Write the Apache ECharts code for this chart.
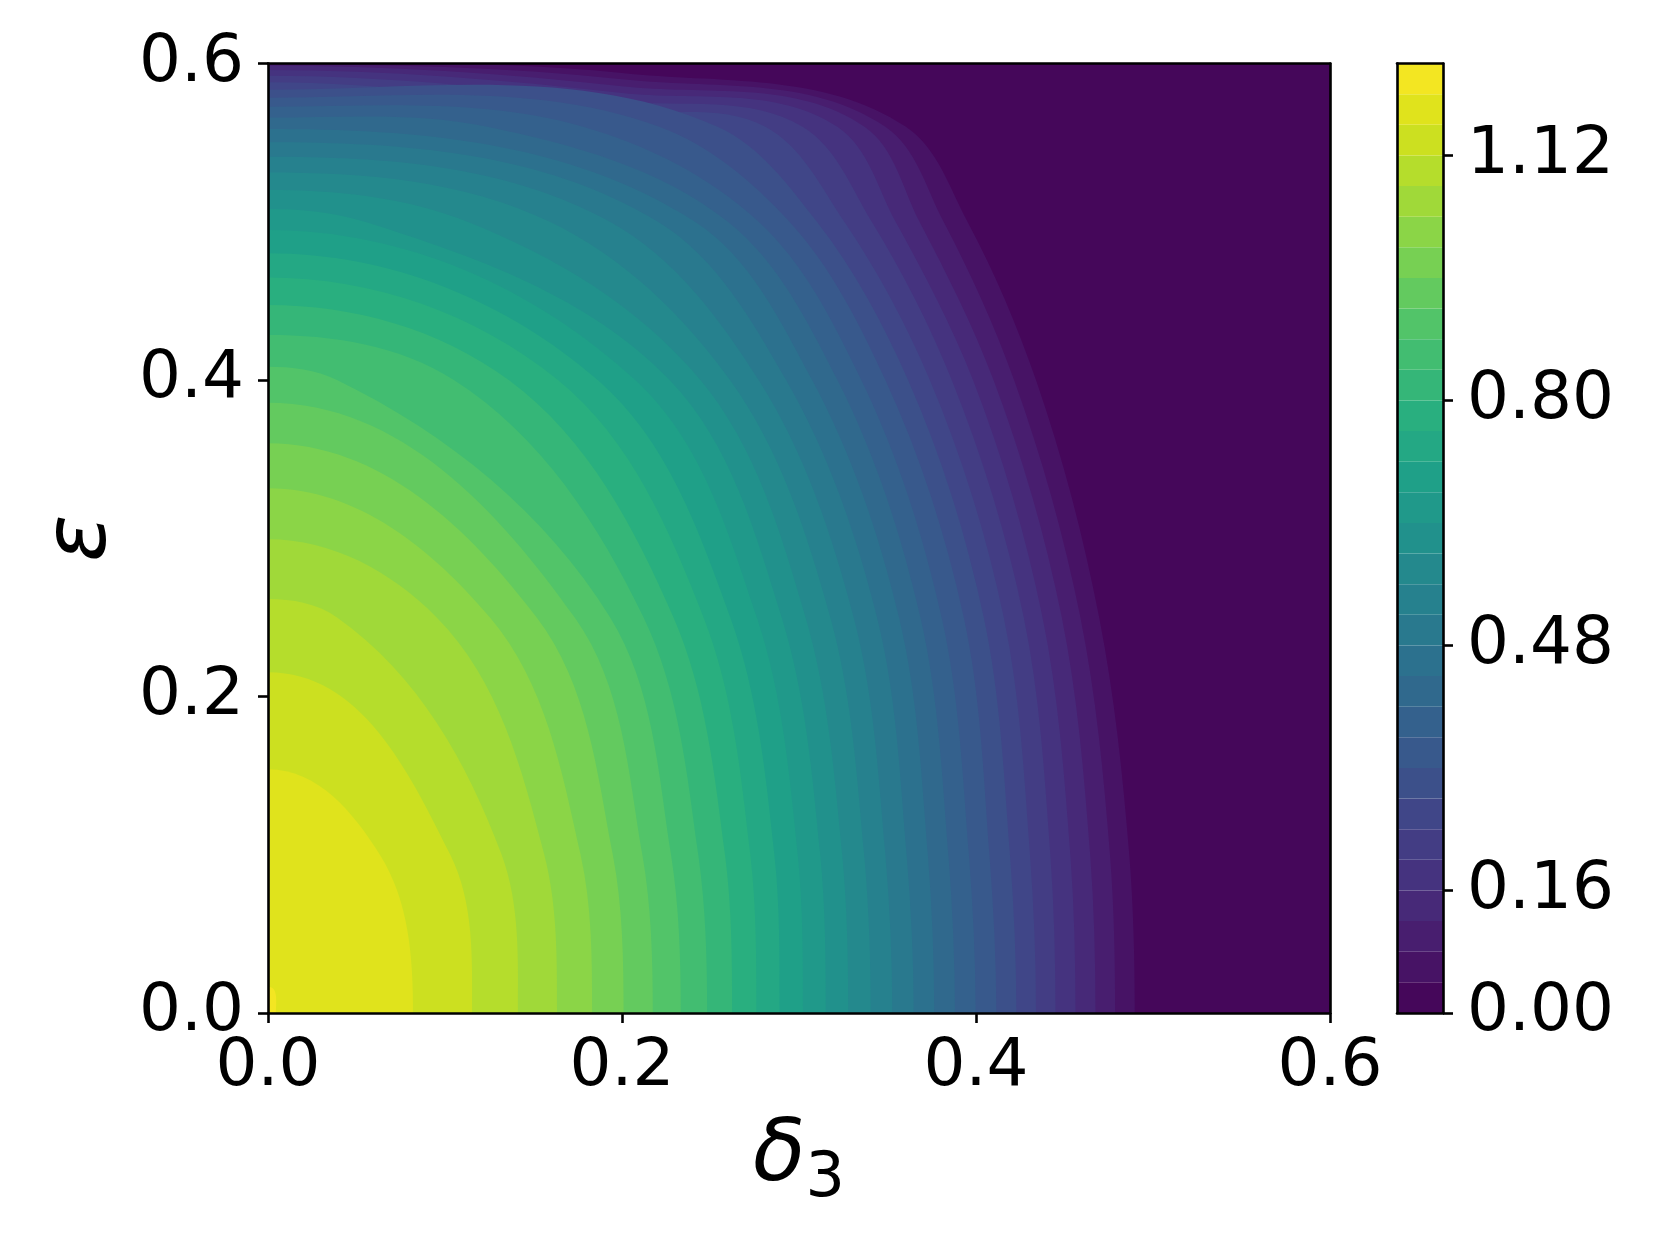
<!DOCTYPE html>
<html>
<head>
<meta charset="utf-8">
<script src="https://cdn.jsdelivr.net/npm/echarts@6/dist/echarts.min.js"></script>
<style>
  html, body { margin: 0; background: #fff; }
  #chart { width: 1660px; height: 1245px; }
</style>
</head>
<body>
<div id="chart"></div>
<script>
// contour levels (lower edge of each filled band above the first one)
const levelValues = [0.04, 0.08, 0.12, 0.16, 0.20, 0.24, 0.28, 0.32, 0.36, 0.40,
  0.44, 0.48, 0.52, 0.56, 0.60, 0.64, 0.68, 0.72, 0.76, 0.80,
  0.84, 0.88, 0.92, 0.96, 1.00, 1.04, 1.08, 1.12, 1.16, 1.20];
const colorbarMax = 1.24;
const colorbarTicks = [0, 0.16, 0.48, 0.80, 1.12];
const axisTicks = [0, 0.2, 0.4, 0.6];
const deltaRange = [0, 0.6];
const epsRange = [0, 0.6];

// where each level line crosses a given eps row (delta value)
const deltaAtEps000 = [0.4897, 0.4786, 0.4675, 0.4562, 0.4449, 0.4339, 0.4228, 0.4115, 0.3998, 0.3881,
  0.3764, 0.3648, 0.3527, 0.3405, 0.3278, 0.3151, 0.3022, 0.2890, 0.2759, 0.2622,
  0.2481, 0.2332, 0.2174, 0.2009, 0.1831, 0.1633, 0.1412, 0.1153, 0.0819, 0.0045];
const deltaAtEps010 = [0.4866, 0.4757, 0.4645, 0.4533, 0.4420, 0.4305, 0.4192, 0.4076, 0.3960, 0.3844,
  0.3728, 0.3608, 0.3488, 0.3368, 0.3244, 0.3120, 0.2993, 0.2861, 0.2725, 0.2582,
  0.2431, 0.2277, 0.2115, 0.1948, 0.1766, 0.1561, 0.1320, 0.1030, 0.0632, null];
const deltaAtEps025 = [0.4696, 0.4590, 0.4485, 0.4376, 0.4270, 0.4157, 0.4044, 0.3931, 0.3806, 0.3686,
  0.3565, 0.3441, 0.3309, 0.3177, 0.3037, 0.2902, 0.2762, 0.2612, 0.2461, 0.2291,
  0.2122, 0.1933, 0.1733, 0.1518, 0.1254, 0.0953, 0.0390, null, null, null];
const deltaAtEps040 = [0.4339, 0.4215, 0.4099, 0.3983, 0.3863, 0.3739, 0.3616, 0.3488, 0.3352, 0.3217,
  0.3074, 0.2927, 0.2772, 0.2610, 0.2443, 0.2269, 0.2075, 0.1863, 0.1638, 0.1360,
  0.1050, 0.0390, null, null, null, null, null, null, null, null];
const deltaAtEps050 = [0.3952, 0.3817, 0.3681, 0.3546, 0.3411, 0.3256, 0.3101, 0.2946, 0.2772, 0.2598,
  0.2412, 0.2203, 0.1932, 0.1592, 0.1127, 0.0547, null, null, null, null,
  null, null, null, null, null, null, null, null, null, null];
const deltaAtEps056 = [0.3604, 0.3488, 0.3370, 0.3217, 0.3020, 0.2810, 0.2540, 0.2210, 0.1780, 0.1240,
  null, null, null, null, null, null, null, null, null, null,
  null, null, null, null, null, null, null, null, null, null];

// where each level line crosses a given delta column (eps value)
const epsAtDelta020 = [0.5940, 0.5900, 0.5856, 0.5814, 0.5761, 0.5698, null, null, null, null,
  null, null, null, null, null, null, null, null, null, null,
  null, null, null, null, null, null, null, null, null, null];
const epsAtDelta000 = [0.5998, 0.5994, 0.5986, 0.5959, 0.5923, 0.5881, 0.5834, 0.5784, 0.5727, 0.5658,
  0.5586, 0.5502, 0.5411, 0.5312, 0.5201, 0.5081, 0.4948, 0.4801, 0.4647, 0.4474,
  0.4284, 0.4084, 0.3857, 0.3600, 0.3316, 0.2993, 0.2616, 0.2153, 0.1540, 0.0166];

const viridisStops = ['#440154', '#48186a', '#472d7b', '#424086', '#3b528b', '#33638d', '#2c728e',
  '#26828e', '#21918c', '#1fa088', '#28ae80', '#3fbc73', '#5ec962', '#84d44b', '#addc30', '#d8e219', '#fde725'];

function viridis(t) {
  const n = viridisStops.length - 1;
  const p = Math.min(Math.max(t, 0), 1) * n;
  const i = Math.min(Math.floor(p), n - 1);
  const f = p - i;
  const a = echarts.color.parse(viridisStops[i]);
  const b = echarts.color.parse(viridisStops[i + 1]);
  const c = [0, 1, 2].map(j => Math.round(a[j] + (b[j] - a[j]) * f));
  return 'rgb(' + c.join(',') + ')';
}

const bandCount = levelValues.length + 1;
const bandColors = [];
for (let k = 0; k < bandCount; k++) bandColors.push(viridis((k + 0.5) / bandCount));

const rowTable = [
  [0.56, deltaAtEps056], [0.5, deltaAtEps050], [0.4, deltaAtEps040],
  [0.25, deltaAtEps025], [0.1, deltaAtEps010], [0, deltaAtEps000]
];

// points of one level line, from the eps axis (delta = 0) to the delta axis (eps = 0)
function levelOutline(k) {
  const pts = [[0, epsAtDelta000[k]]];
  if (epsAtDelta020[k] != null) pts.push([0.2, epsAtDelta020[k]]);
  rowTable.forEach(([eps, arr]) => {
    if (arr[k] != null) pts.push([arr[k], eps]);
  });
  return pts.sort((a, b) => a[0] - b[0]);
}

function unit(v) {
  const l = Math.hypot(v[0], v[1]) || 1;
  return [v[0] / l, v[1] / l];
}

// filled region {value >= level}: smooth curve through the read points,
// meeting both axes at right angles (the field is symmetric about them)
function renderContour(params, api) {
  const k = params.dataIndex;
  if (k === 0) {
    const a = api.coord([deltaRange[0], epsRange[0]]);
    const b = api.coord([deltaRange[1], epsRange[1]]);
    return {
      type: 'rect',
      shape: { x: a[0], y: b[1], width: b[0] - a[0], height: a[1] - b[1] },
      style: { fill: bandColors[0] }
    };
  }
  const pts = levelOutline(k - 1);
  const n = pts.length;
  const ext = [api.coord([-pts[1][0], pts[1][1]])]
    .concat(pts.map(p => api.coord(p)), [api.coord([pts[n - 2][0], -pts[n - 2][1]])]);
  // tangent at each real point: bisector of the two neighbouring chords
  const tan = [];
  for (let i = 1; i < ext.length - 1; i++) {
    const a = unit([ext[i][0] - ext[i - 1][0], ext[i][1] - ext[i - 1][1]]);
    const b = unit([ext[i + 1][0] - ext[i][0], ext[i + 1][1] - ext[i][1]]);
    tan[i] = unit([a[0] + b[0], a[1] + b[1]]);
  }
  const o = api.coord([0, 0]);
  let d = 'M' + o[0] + ',' + o[1] + ' L' + ext[1][0] + ',' + ext[1][1];
  for (let i = 1; i < ext.length - 2; i++) {
    const p1 = ext[i], p2 = ext[i + 1], t1 = tan[i], t2 = tan[i + 1];
    const chord = Math.hypot(p2[0] - p1[0], p2[1] - p1[1]);
    const theta = Math.acos(Math.max(-1, Math.min(1, t1[0] * t2[0] + t1[1] * t2[1])));
    const ratio = theta < 1e-3 ? 1 / 3 : (2 / 3) * Math.tan(theta / 4) / Math.sin(theta / 2);
    const h = chord * ratio;
    d += ' C' + (p1[0] + t1[0] * h) + ',' + (p1[1] + t1[1] * h) + ' ' +
      (p2[0] - t2[0] * h) + ',' + (p2[1] - t2[1] * h) + ' ' + p2[0] + ',' + p2[1];
  }
  d += ' Z';
  return {
    type: 'path',
    shape: { pathData: d },
    style: { fill: bandColors[k] }
  };
}

const bandEdges = [0].concat(levelValues, [colorbarMax]);
const colorbarData = [];
for (let k = 0; k < bandCount; k++) colorbarData.push([bandEdges[k], bandEdges[k + 1]]);

const font = 'DejaVu Sans';
const lineStyle = { color: '#000', width: 2.6 };
const tickStyle = { show: true, inside: false, length: 10, lineStyle: { color: '#000', width: 2.6 } };
const frameAxis = (grid, pos, min, max) => ({
  gridIndex: grid, type: 'value', position: pos, min, max, z: 5,
  axisLine: { show: true, onZero: false, lineStyle },
  axisTick: { show: false }, axisLabel: { show: false }, splitLine: { show: false }
});

const option = {
  animation: false,
  backgroundColor: '#fff',
  grid: [
    { left: 268, top: 63.5, width: 1062, height: 949.5 },
    { left: 1397, top: 63.5, width: 46, height: 949.5 }
  ],
  xAxis: [
    {
      gridIndex: 0, type: 'value', position: 'bottom', min: deltaRange[0], max: deltaRange[1], interval: 0.2, z: 5,
      axisLine: { show: true, onZero: false, lineStyle },
      axisTick: tickStyle,
      axisLabel: { customValues: axisTicks, fontFamily: font, fontSize: 66, color: '#000', margin: 22,
        formatter: v => v.toFixed(1) },
      splitLine: { show: false },
      name: '{d|δ}{s|3}', nameLocation: 'middle', nameGap: 102,
      nameTextStyle: {
        rich: {
          d: { fontFamily: font, fontStyle: 'italic', fontSize: 86, color: '#000', lineHeight: 96, verticalAlign: 'top' },
          s: { fontFamily: font, fontSize: 62, color: '#000', lineHeight: 52, verticalAlign: 'bottom' }
        }
      }
    },
    frameAxis(0, 'top', deltaRange[0], deltaRange[1]),
    frameAxis(1, 'bottom', 0, 1),
    frameAxis(1, 'top', 0, 1)
  ],
  yAxis: [
    {
      gridIndex: 0, type: 'value', position: 'left', min: epsRange[0], max: epsRange[1], interval: 0.2, z: 5,
      axisLine: { show: true, onZero: false, lineStyle },
      axisTick: tickStyle,
      axisLabel: { customValues: axisTicks, fontFamily: font, fontSize: 66, color: '#000', margin: 24,
        padding: [12, 0, 0, 0], formatter: v => v.toFixed(1) },
      splitLine: { show: false },
      name: 'ε', nameLocation: 'middle', nameGap: 142, nameRotate: 90,
      nameTextStyle: { fontFamily: font, fontStyle: 'italic', fontSize: 88, color: '#000' }
    },
    frameAxis(0, 'right', epsRange[0], epsRange[1]),
    {
      gridIndex: 1, type: 'value', position: 'right', min: 0, max: colorbarMax, z: 5,
      axisLine: { show: true, onZero: false, lineStyle },
      axisTick: Object.assign({ customValues: colorbarTicks }, tickStyle),
      axisLabel: { customValues: colorbarTicks, fontFamily: font, fontSize: 66, color: '#000', margin: 24,
        padding: [16, 0, 0, 0], formatter: v => v.toFixed(2) },
      splitLine: { show: false }
    },
    frameAxis(1, 'left', 0, colorbarMax)
  ],
  series: [
    {
      type: 'custom',
      xAxisIndex: 0, yAxisIndex: 0,
      data: [0].concat(levelValues),
      clip: true, silent: true, z: 1,
      renderItem: renderContour
    },
    {
      type: 'custom',
      xAxisIndex: 2, yAxisIndex: 2,
      data: colorbarData,
      silent: true, z: 1,
      renderItem(params, api) {
        const p0 = api.coord([0, api.value(0)]);
        const p1 = api.coord([1, api.value(1)]);
        return {
          type: 'rect',
          shape: { x: p0[0], y: p1[1], width: p1[0] - p0[0], height: p0[1] - p1[1] },
          style: { fill: bandColors[params.dataIndex] }
        };
      }
    }
  ]
};

const chart = echarts.init(document.getElementById('chart'));
chart.setOption(option);
</script>
</body>
</html>
